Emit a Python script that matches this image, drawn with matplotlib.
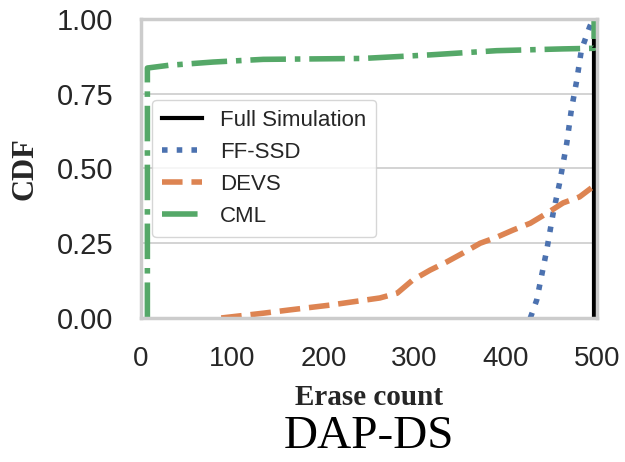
import matplotlib
matplotlib.use("Agg")
import matplotlib.pyplot as plt

# Erase-count CDFs for the DAP-DS workload
full_x = [497, 497, 500]
full_y = [0.0, 1.0, 1.0]

ffssd_x = [427, 434, 445, 452, 459, 467, 472, 478, 483, 492, 496]
ffssd_y = [0.0, 0.06, 0.227, 0.35, 0.45, 0.585, 0.696, 0.796, 0.896, 0.973, 1.0]

devs_x = [88, 134, 163, 207, 262, 281, 298, 317, 335, 353, 372, 390,
          408, 427, 445, 463, 481, 494]
devs_y = [0.0, 0.016, 0.027, 0.043, 0.067, 0.083, 0.127, 0.16, 0.187, 0.217,
          0.25, 0.27, 0.294, 0.317, 0.35, 0.385, 0.405, 0.435]

cml_x = [7, 7, 30, 79, 134, 243, 317, 390, 463, 497, 497, 500]
cml_y = [0.0, 0.836, 0.845, 0.856, 0.865, 0.868, 0.88, 0.894, 0.90, 0.902, 1.0, 1.0]

x_ticks = [0, 100, 200, 300, 400, 500]
y_ticks = [0.0, 0.25, 0.5, 0.75, 1.0]

BLUE = "#4C72B0"
ORANGE = "#DD8452"
GREEN = "#55A868"
INK = "#262626"
FRAME = "#cccccc"

plt.rcParams["font.family"] = ["Liberation Sans", "DejaVu Sans"]

fig = plt.figure(figsize=(6.25, 4.62), dpi=100)
ax = fig.add_axes([0.2256, 0.3117, 0.7294, 0.6472])

ax.plot(full_x, full_y, color="black", lw=3, ls="-", label="Full Simulation")
ax.plot(ffssd_x, ffssd_y, color=BLUE, lw=4, ls=":", label="FF-SSD")
ax.plot(devs_x, devs_y, color=ORANGE, lw=4, ls="--", label="DEVS")
ax.plot(cml_x, cml_y, color=GREEN, lw=4, ls="-.", label="CML")

ax.set_xlim(0, 500)
ax.set_ylim(0, 1)
ax.set_xticks(x_ticks)
ax.set_yticks(y_ticks)
ax.set_yticklabels([f"{v:.2f}" for v in y_ticks])
ax.tick_params(length=0, pad=20, labelsize=20, labelcolor=INK)
ax.tick_params(axis="y", labelsize=21)

ax.grid(axis="y", color=FRAME, lw=1.2)
ax.set_axisbelow(True)
for s in ax.spines.values():
    s.set_color(FRAME)
    s.set_linewidth(2.5)

ax.set_xlabel("Erase count", family="Liberation Serif", weight="bold",
              fontsize=21, color=INK, labelpad=9)
ax.set_ylabel("CDF", family="Liberation Serif", weight="bold",
              fontsize=22, color=INK, labelpad=12)

leg = ax.legend(loc="center left", bbox_to_anchor=(0.0, 0.5), fontsize=16,
                handlelength=1.8, labelspacing=0.5, borderpad=0.45,
                edgecolor=FRAME, fancybox=True)
for t in leg.get_texts():
    t.set_color(INK)

fig.text(0.59, 0.055, "DAP-DS", family="Liberation Serif", fontsize=34,
         ha="center", va="center", color="black")

fig.savefig("out.png", dpi=100, facecolor="white")
